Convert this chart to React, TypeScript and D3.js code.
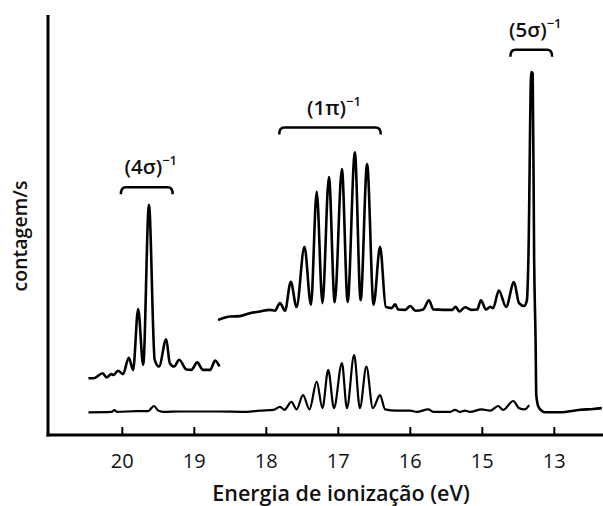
import React from 'react';
import * as d3 from 'd3';

// ionisation energy (eV) / counts (arbitrary units, 0-100 = axis height)
const sigma4Trace: [number, number][] = [
  [20.47, 13.5], [20.40, 13.5], [20.27, 14.7], [20.22, 13.7], [20.15, 14.5],
  [20.12, 14.3], [20.06, 15.3], [19.99, 14.5], [19.91, 18.4], [19.85, 15.5],
  [19.78, 30.0], [19.71, 16.7], [19.63, 54.8], [19.55, 17.9], [19.49, 16.3],
  [19.39, 22.8], [19.34, 17.1], [19.28, 16.3], [19.21, 17.9], [19.11, 15.6],
  [19.04, 15.5], [18.96, 17.3], [18.88, 15.5], [18.78, 15.5], [18.71, 17.7],
  [18.65, 16.3],
];

const pi1Sigma5Trace: [number, number][] = [
  [18.67, 27.4], [18.50, 28.2], [18.37, 28.3], [18.23, 29.0], [18.09, 29.4],
  [17.95, 29.8], [17.88, 29.6], [17.81, 31.4], [17.74, 29.6], [17.66, 36.5],
  [17.58, 30.5], [17.47, 44.8], [17.38, 31.0], [17.30, 57.9], [17.22, 31.4],
  [17.13, 61.4], [17.05, 31.6], [16.95, 63.3], [16.87, 31.7], [16.77, 67.3],
  [16.69, 32.1], [16.60, 64.5], [16.51, 31.0], [16.42, 44.8], [16.34, 30.5],
  [16.26, 30.2], [16.21, 31.1], [16.17, 29.9], [16.07, 29.8], [16.00, 30.7],
  [15.93, 29.6], [15.82, 29.9], [15.74, 32.1], [15.68, 29.9], [15.54, 29.8],
  [15.42, 29.8], [15.37, 30.5], [15.32, 29.4], [15.24, 30.4], [15.15, 29.8],
  [15.07, 29.9], [15.02, 32.1], [14.95, 29.9], [14.89, 30.5], [14.85, 30.2],
  [14.77, 34.4], [14.67, 30.5], [14.56, 36.4], [14.49, 31.4], [14.42, 30.7],
  [14.38, 32.1], [14.36, 41.7], [14.32, 86.4], [14.30, 86.1], [14.28, 41.7],
  [14.26, 22.6], [14.25, 9.5], [14.22, 6.7], [14.17, 5.7], [14.13, 5.4],
  [13.92, 5.4], [13.64, 6.0], [13.46, 6.2], [13.34, 6.4],
];

const fullTrace: [number, number][] = [
  [20.47, 5.4], [20.15, 5.5], [20.11, 5.9], [20.07, 5.5], [19.80, 5.7],
  [19.64, 5.7], [19.56, 6.9], [19.50, 5.8], [19.43, 5.5], [19.20, 5.6],
  [18.88, 5.6], [18.69, 5.6], [18.27, 5.5], [18.09, 5.8], [17.90, 6.0],
  [17.81, 6.7], [17.75, 6.0], [17.65, 7.9], [17.58, 6.1], [17.49, 9.5],
  [17.40, 6.1], [17.30, 12.7], [17.22, 6.4], [17.14, 15.5], [17.06, 6.4],
  [16.95, 17.1], [16.88, 6.4], [16.78, 19.0], [16.70, 6.4], [16.61, 16.3],
  [16.52, 6.4], [16.42, 9.5], [16.35, 6.1], [16.19, 5.8], [16.00, 5.8],
  [15.91, 5.5], [15.75, 6.1], [15.68, 5.5], [15.45, 5.5], [15.38, 6.0],
  [15.31, 5.5], [15.24, 5.8], [15.17, 5.5], [15.01, 6.1], [14.89, 5.8],
  [14.78, 6.9], [14.71, 6.0], [14.57, 8.1], [14.49, 6.4], [14.41, 6.1],
  [14.35, 7.1],
];

const tickValues = [20, 19, 18, 17, 16, 15, 14];
const tickLabels = ['20', '19', '18', '17', '16', '15', '13'];

// band labels: orbital, energy span of the bracket, bracket height
const bandOrbitals = ['4σ', '1π', '5σ'];
const bandFrom = [20.02, 17.82, 14.61];
const bandTo = [19.3, 16.41, 14.03];
const bandLevel = [59.0, 73.2, 91.7];

const W = 603;
const H = 506;
const axisX = 48;
const axisY = 435;
const font = '"Open Sans", "DejaVu Sans", sans-serif';

export default function App() {
  const x = d3.scaleLinear().domain([20, 14]).range([122.3, 554.3]);
  const y = d3.scaleLinear().domain([0, 100]).range([axisY, 15]);

  const line = d3
    .line<[number, number]>()
    .x((d) => x(d[0]))
    .y((d) => y(d[1]))
    .curve(d3.curveMonotoneX);

  const traces = [sigma4Trace, pi1Sigma5Trace, fullTrace];

  return (
    <svg
      width={W}
      height={H}
      style={{ position: 'absolute', left: 0, top: 0, background: '#fff' }}
      fontFamily={font}
    >
      {traces.map((t, i) => (
        <path
          key={i}
          d={line(t) ?? ''}
          fill="none"
          stroke="#000"
          strokeWidth={i === 2 ? 2.2 : 2.6}
          strokeLinejoin="round"
        />
      ))}

      {/* axes */}
      <line x1={axisX} x2={axisX} y1={15} y2={axisY + 1.5} stroke="#000" strokeWidth={3} />
      <line x1={axisX - 1.5} x2={W} y1={axisY} y2={axisY} stroke="#000" strokeWidth={3} />
      {tickValues.map((v, i) => (
        <g key={v} transform={`translate(${x(v)},0)`}>
          <line y1={axisY - 8} y2={axisY} stroke="#000" strokeWidth={2} />
          <text
            y={468}
            textAnchor="middle"
            fontSize={20}
            fontWeight={500}
            fill="#111"
          >
            {tickLabels[i]}
          </text>
        </g>
      ))}
      <text x={341} y={501} textAnchor="middle" fontSize={21.5} fontWeight={600} fill="#111">
        Energia de ionização (eV)
      </text>
      <text
        transform="translate(27,236) rotate(-90)"
        textAnchor="middle"
        fontSize={19.5}
        fontWeight={600}
        fill="#111"
      >
        contagem/s
      </text>

      {/* band brackets */}
      {bandOrbitals.map((orb, i) => {
        const x1 = x(bandFrom[i]);
        const x2 = x(bandTo[i]);
        const yb = y(bandLevel[i]);
        const r = 5;
        const hook = 7;
        const d = `M${x1},${yb + hook} Q${x1},${yb} ${x1 + r},${yb} L${x2 - r},${yb} Q${x2},${yb} ${x2},${yb + hook}`;
        return (
          <g key={orb}>
            <path d={d} fill="none" stroke="#000" strokeWidth={2.5} />
            <text
              x={(x1 + x2) / 2 + 4}
              y={yb - 13}
              textAnchor="middle"
              fontSize={20.5}
              fontWeight={600}
              fill="#111"
            >
              ({orb})
              <tspan fontSize={13} dy={-9}>
                −1
              </tspan>
            </text>
          </g>
        );
      })}
    </svg>
  );
}
